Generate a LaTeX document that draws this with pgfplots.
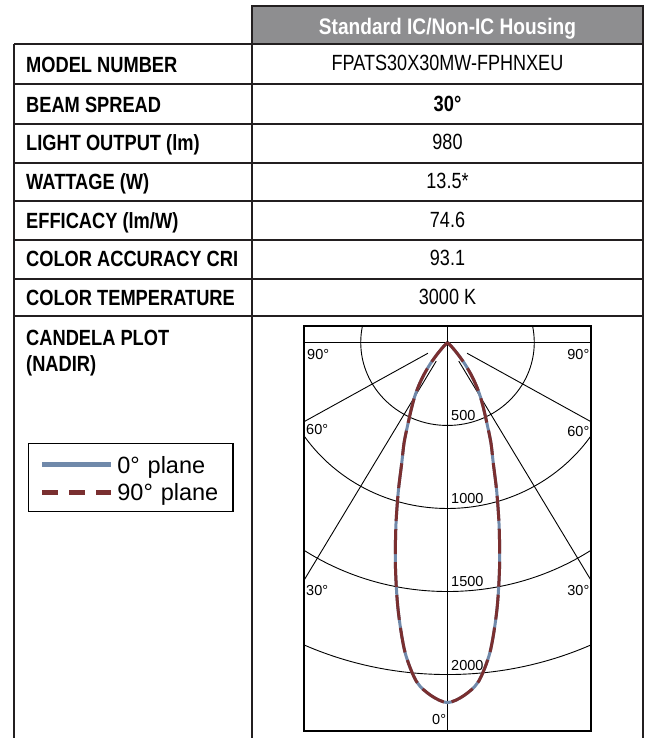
\documentclass[border=0pt]{standalone}
\usepackage{fontspec}
\setmainfont{Liberation Sans}
\newfontfamily\condB[FakeStretch=0.83]{Liberation Sans}
\newfontfamily\condH[FakeStretch=0.85]{Liberation Sans}
\newfontfamily\condR[FakeStretch=0.82]{Liberation Sans}
\usepackage{pgfplots}
\usepackage{pgfplotstable}
\pgfplotsset{compat=1.18}
\definecolor{cBlue}{HTML}{7089AA}
\definecolor{cRed}{HTML}{7A2F30}
\definecolor{hdrGray}{HTML}{8E8E90}
\definecolor{lineDark}{HTML}{231F20}
\newcommand\tabfont{\fontsize{22}{26}\selectfont}
\newcommand\lblfont{\fontsize{14.5}{16}\selectfont}

% candela distribution: angle (deg from nadir), intensity (cd)
\pgfplotstableread{
ang cd
-45 0
-42.5 40
-40 92
-37.5 165
-35 237
-32.5 309
-30 380
-27.5 451
-25 538
-22.5 654
-20 770
-17.5 944
-15 1150
-12.5 1386
-10 1638
-7.5 1880
-5 2050
-2.5 2130
0 2169
2.5 2130
5 2050
7.5 1880
10 1638
12.5 1386
15 1150
17.5 944
20 770
22.5 654
25 538
27.5 451
30 380
32.5 309
35 237
37.5 165
40 92
42.5 40
45 0
}\candela

\begin{document}
\begin{tikzpicture}[x=1pt,y=1pt]
\path[use as bounding box] (0,0) rectangle (645,738);

% header
\fill[hdrGray] (252,694) rectangle (643,732);
\draw[lineDark, line width=2pt] (252,694) -- (252,732) -- (643,732) -- (643,694);
\node[anchor=base, inner sep=0, text=white] at (447.5,703) {\condH\bfseries\fontsize{22.5}{26}\selectfont Standard IC/Non-IC Housing};

% table grid
\foreach \yy in {44,84,124,163,201,240,279,316} {
  \draw[lineDark, line width=1.8pt] (14,738-\yy) -- (643,738-\yy);
}
\draw[lineDark, line width=2pt] (14,694) -- (14,0);
\draw[lineDark, line width=2pt] (252,694) -- (252,0);
\draw[lineDark, line width=2pt] (643,694) -- (643,0);

% left labels
\begin{scope}[every node/.style={anchor=base west, inner sep=0}]
\node at (26,738-73) {\condB\bfseries\tabfont MODEL NUMBER};
\node at (26,738-112.5) {\condB\bfseries\tabfont BEAM SPREAD};
\node at (26,738-151) {\condB\bfseries\tabfont LIGHT OUTPUT (lm)};
\node at (26,738-190) {\condB\bfseries\tabfont WATTAGE (W)};
\node at (26,738-228.5) {\condB\bfseries\tabfont EFFICACY (lm/W)};
\node at (26,738-267) {\condB\bfseries\tabfont COLOR ACCURACY CRI};
\node at (26,738-306) {\condB\bfseries\tabfont COLOR TEMPERATURE};
\node at (26,738-345.5) {\condB\bfseries\tabfont CANDELA PLOT};
\node at (26,738-372) {\condB\bfseries\tabfont (NADIR)};
\end{scope}

% right values
\begin{scope}[every node/.style={anchor=base, inner sep=0}]
\node at (447.5,738-71) {\condR\tabfont FPATS30X30MW-FPHNXEU};
\node at (447.5,738-111.5) {\condB\bfseries\tabfont 30°};
\node at (447.5,738-150) {\condR\tabfont 980};
\node at (447.5,738-189) {\condR\tabfont 13.5*};
\node at (447.5,738-227.5) {\condR\tabfont 74.6};
\node at (447.5,738-266) {\condR\tabfont 93.1};
\node at (447.5,738-305) {\condR\tabfont 3000 K};
\end{scope}

\begin{axis}[
  at={(304pt,7pt)}, anchor=south west,
  scale only axis, width=287pt, height=405pt,
  xmin=-827, xmax=827, ymin=-2340, ymax=99,
  axis line style={line width=1.2pt, black},
  ticks=none,
  clip=true,
  legend cell align=left,
  legend style={at={(axis description cs:-0.9627,0.7119)}, anchor=north west,
    draw=black, line width=1.8pt, fill=white,
    inner xsep=11.3pt, inner ysep=10pt, row sep=7pt, column sep=3.5pt,
    font=\fontsize{23.5}{23.5}\selectfont,
    nodes={inner sep=0pt, text height=19.8pt, text depth=0.7pt, text width=104pt, align=left}},
  legend image code/.code={\draw[#1, line width=5pt] (0pt,-1pt) -- (69pt,-1pt);},
]
% polar grid
\draw[line width=0.9pt] (axis cs:-1000,0) -- (axis cs:1000,0);
\draw[line width=0.9pt] (axis cs:0,200) -- (axis cs:0,-2500);
\draw[line width=0.9pt] (axis cs:0,0) ellipse [x radius=500, y radius=500];
\draw[line width=0.9pt] (axis cs:0,0) ellipse [x radius=1000, y radius=1000];
\draw[line width=0.9pt] (axis cs:0,0) ellipse [x radius=1500, y radius=1500];
\draw[line width=0.9pt] (axis cs:0,0) ellipse [x radius=2000, y radius=2000];
\draw[line width=0.9pt] (axis cs:65,-112.6) -- (axis cs:827,-1432.4);
\draw[line width=0.9pt] (axis cs:-65,-112.6) -- (axis cs:-827,-1432.4);
\draw[line width=0.9pt] (axis cs:112.6,-65) -- (axis cs:827,-477.5);
\draw[line width=0.9pt] (axis cs:-112.6,-65) -- (axis cs:-827,-477.5);

\addplot[draw=cBlue, line width=3pt, smooth]
  table[x expr={\thisrow{cd}*sin(\thisrow{ang})}, y expr={-\thisrow{cd}*cos(\thisrow{ang})}] {\candela};
\addlegendentry{0° plane}
\addplot[draw=cRed, line width=3pt, smooth, dash pattern=on 25pt off 8pt,
  legend image post style={dash pattern=on 16pt off 11pt}]
  table[x expr={\thisrow{cd}*sin(\thisrow{ang})}, y expr={-\thisrow{cd}*cos(\thisrow{ang})}] {\candela};
\addlegendentry{90° plane}
\end{axis}

% polar labels
\begin{scope}[every node/.style={inner sep=0}]
\node[anchor=base west] at (307,738-360) {\lblfont 90°};
\node[anchor=base east] at (589.5,738-360) {\lblfont 90°};
\node[anchor=base west] at (306,738-435) {\lblfont 60°};
\node[anchor=base east] at (589.5,738-437) {\lblfont 60°};
\node[anchor=base west] at (306,738-596) {\lblfont 30°};
\node[anchor=base east] at (589.5,738-596) {\lblfont 30°};
\node[anchor=base west] at (432,738-725) {\lblfont 0°};
\node[anchor=base west] at (451,738-421) {\lblfont 500};
\node[anchor=base west] at (451,738-503.5) {\lblfont 1000};
\node[anchor=base west] at (451,738-587) {\lblfont 1500};
\node[anchor=base west] at (451,738-671) {\lblfont 2000};
\end{scope}
\end{tikzpicture}
\end{document}
